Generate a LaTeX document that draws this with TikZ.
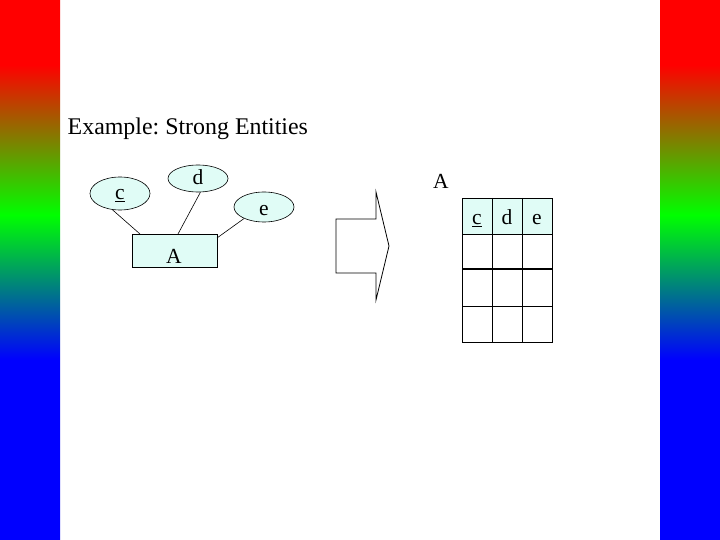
\documentclass[tikz,border=0pt]{standalone}
\usepackage{fontspec}
\setmainfont{Liberation Serif}
\usetikzlibrary{shapes.geometric}
\definecolor{lightcyan}{RGB}{224,252,246}
\pgfdeclareverticalshading{rgbbar}{100bp}{color(0bp)=(blue); color(41.67bp)=(blue); color(55.1bp)=(green); color(69bp)=(red); color(100bp)=(red)}
\tikzset{
  attr/.style={ellipse, draw, fill=lightcyan, minimum width=60pt, inner sep=0pt, line width=0.6pt},
  entity/.style={rectangle, draw, fill=lightcyan, minimum width=85pt, minimum height=33pt, inner sep=0pt, line width=0.6pt},
  lbl/.style={inner sep=0pt, anchor=base, font=\fontsize{21.5}{26}\selectfont},
  conn/.style={draw, line width=0.6pt}
}
\begin{document}
\frenchspacing
\begin{tikzpicture}[x=1pt,y=-1pt]
\useasboundingbox (0,0) rectangle (720,540);
\fill[white] (0,0) rectangle (720,540);
\shade[shading=rgbbar] (0,0) rectangle (60,540);
\shade[shading=rgbbar] (660,0) rectangle (720,540);
\node[anchor=base west, inner sep=0pt, font=\fontsize{23.9}{28}\selectfont] (title) at (67.5,135) {Example: Strong Entities};
% ER diagram
\node[attr, minimum height=33pt] (c) at (120,193.5) {};
\node[attr, minimum height=27pt] (d) at (198,178.5) {};
\node[attr, minimum height=30pt] (e) at (264,207) {};
\node[entity] (A) at (174.5,250.5) {};
\node[lbl] (cl) at (120,200) {\underline{c}};
\node[lbl] (dl) at (198,185) {d};
\node[lbl] (el) at (264,215) {e};
\node[lbl] (Al) at (174,263) {A};
\coordinate (ca) at (140,234);
\coordinate (da) at (178,234);
\coordinate (ea) at (217,238);
\draw[conn] (c.-115) -- (ca);
\draw[conn] (d.-80) -- (da);
\draw[conn] (e.-150) -- (ea);
% big arrow
\draw[line width=0.8pt] (336,219) -- (376,219) -- (376,192) -- (389,246) -- (376,300) -- (376,273) -- (336,273) -- cycle;
% table
\node[lbl] (tname) at (441,189) {A};
\fill[lightcyan] (462,198) rectangle (552,234);
\draw[line width=0.8pt] (462,198) rectangle (552,342);
\draw[line width=0.8pt] (492,198) -- (492,342);
\draw[line width=0.8pt] (522,198) -- (522,342);
\draw[line width=0.8pt] (462,234) -- (552,234);
\draw[line width=1.8pt] (462,269) -- (552,269);
\draw[line width=0.8pt] (462,306) -- (552,306);
\node[lbl] (tc) at (477,225) {\underline{c}};
\node[lbl] (td) at (507,225) {d};
\node[lbl] (te) at (537,225) {e};
\end{tikzpicture}
\end{document}
